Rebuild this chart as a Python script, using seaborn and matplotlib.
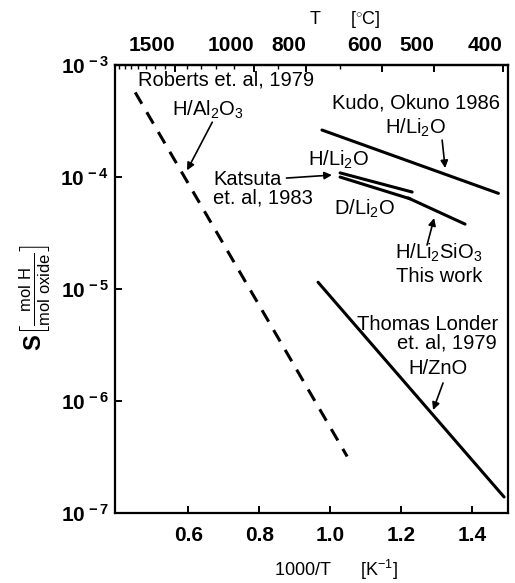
import numpy as np
import pandas as pd
import matplotlib
matplotlib.use("Agg")
import matplotlib.pyplot as plt
from matplotlib.ticker import FixedLocator, FixedFormatter, NullLocator
import seaborn as sns

# Hydrogen solubility in oxides: end points of each fitted line
# x = 1000/T [1/K], S = mol H / mol oxide
roberts_x = [0.451, 1.048]
roberts_s = [5.7e-4, 3.2e-7]
kudo_x = [0.977, 1.474]
kudo_s = [2.63e-4, 7.15e-5]
katsuta_h_x = [1.028, 1.231]
katsuta_h_s = [1.09e-4, 7.35e-5]
katsuta_d_x = [1.028, 1.225]
katsuta_d_s = [1.0e-4, 6.4e-5]
this_work_x = [1.220, 1.380]
this_work_s = [6.5e-5, 3.8e-5]
londer_x = [0.966, 1.490]
londer_s = [1.15e-5, 1.39e-7]

series_names = ["Roberts H/Al2O3", "Kudo H/Li2O", "Katsuta H/Li2O",
                "Katsuta D/Li2O", "This work H/Li2SiO3", "Londer H/ZnO"]
series_x = [roberts_x, kudo_x, katsuta_h_x, katsuta_d_x, this_work_x, londer_x]
series_s = [roberts_s, kudo_s, katsuta_h_s, katsuta_d_s, this_work_s, londer_s]

x_ticks = [0.6, 0.8, 1.0, 1.2, 1.4]
x_tick_labels = ["0.6", "0.8", "1.0", "1.2", "1.4"]
y_exponents = [-7, -6, -5, -4, -3]
top_temps_c = [1500, 1000, 800, 600, 500, 400]

sns.set_style("ticks")
plt.rcParams["font.family"] = ["Liberation Sans", "DejaVu Sans"]
plt.rcParams["mathtext.fontset"] = "custom"
plt.rcParams["mathtext.rm"] = "Liberation Sans"
plt.rcParams["mathtext.it"] = "Liberation Sans:italic"
plt.rcParams["mathtext.bf"] = "Liberation Sans:bold"
plt.rcParams["text.color"] = "black"
plt.rcParams["axes.labelcolor"] = "black"

df = pd.DataFrame({
    "x": [v for xs in series_x for v in xs],
    "S": [v for ss in series_s for v in ss],
    "series": [n for n, xs in zip(series_names, series_x) for _ in xs],
})

fig = plt.figure(figsize=(5.15, 5.83), dpi=100)
ax = fig.add_axes([0.2233, 0.120, 0.7631, 0.7684])

dashes = {n: "" for n in series_names}
dashes["Roberts H/Al2O3"] = (4.3, 3.2)
sns.lineplot(data=df, x="x", y="S", hue="series", style="series",
             palette=["black"] * len(series_names), dashes=dashes,
             linewidth=2.2, estimator=None, sort=False, legend=False, ax=ax)

ax.set_yscale("log")
ax.set_xlim(0.394, 1.501)
ax.set_ylim(1e-7, 1e-3)

for sp in ax.spines.values():
    sp.set_linewidth(1.6)
    sp.set_color("black")

ax.xaxis.set_major_locator(FixedLocator(x_ticks))
ax.xaxis.set_major_formatter(FixedFormatter(x_tick_labels))
ax.xaxis.set_minor_locator(NullLocator())
ax.yaxis.set_major_locator(FixedLocator([10.0 ** e for e in y_exponents]))
ax.yaxis.set_major_formatter(FixedFormatter(
    [r"$\mathbf{10^{\,%d}}$" % e for e in y_exponents]))
ax.yaxis.set_minor_locator(NullLocator())
ax.tick_params(axis="both", which="major", direction="in", length=5,
               width=1.4, labelsize=15, colors="black")
ax.tick_params(axis="x", pad=9)
ax.tick_params(axis="y", pad=4)
for lbl in ax.get_xticklabels():
    lbl.set_fontweight("bold")

ax.set_xlabel(r"1000/T      [K$^{-1}$]", fontsize=13)
ax.xaxis.set_label_coords(0.562, -0.100)
ax.set_ylabel(r"$\mathbf{S}\left[\frac{\mathrm{mol\ H}}{\mathrm{mol\ oxide}}\right]$",
              fontsize=17)
ax.yaxis.set_label_coords(-0.158, 0.482)

# Temperature scale in degrees Celsius along the top
top = ax.secondary_xaxis("top", functions=(lambda x: 1000.0 / np.maximum(x, 1e-6) - 273.0,
                                          lambda t: 1000.0 / (np.asarray(t) + 273.0)))
top.xaxis.set_major_locator(FixedLocator(top_temps_c))
top.xaxis.set_major_formatter(FixedFormatter([str(t) for t in top_temps_c]))
top.xaxis.set_minor_locator(FixedLocator(list(range(400, 2300, 100))))
top.tick_params(axis="x", which="major", direction="in", length=5, width=1.4,
                labelsize=15, pad=7, colors="black")
top.tick_params(axis="x", which="minor", direction="in", length=3, width=1.0,
                colors="black")
for lbl in top.get_xticklabels():
    lbl.set_fontweight("bold")
    lbl.set_horizontalalignment("right")
top.set_xlabel(r"T      [$^{\circ}$C]", fontsize=13, labelpad=9, color="black")
top.xaxis.label.set_x(0.585)
top.spines["top"].set_linewidth(1.6)
top.spines["top"].set_color("black")


def lg(e):
    return 10.0 ** e


txt = dict(fontsize=14.5, color="black", ha="center", va="center")
arrow = dict(arrowstyle="-|>", color="black", lw=1.2, mutation_scale=11,
             shrinkA=0, shrinkB=0)

# Roberts et al. (dashed)
ax.text(0.707, lg(-3.134), "Roberts et. al, 1979", **txt)
ax.text(0.656, lg(-3.40), r"H/Al$_2$O$_3$", **txt)
ax.annotate("", xy=(0.597, lg(-3.94)), xytext=(0.668, lg(-3.51)), arrowprops=arrow)

# Kudo, Okuno
ax.text(1.241, lg(-3.34), "Kudo, Okuno 1986", **txt)
ax.text(1.242, lg(-3.5625), r"H/Li$_2$O", **txt)
ax.annotate("", xy=(1.324, lg(-3.92)), xytext=(1.3155, lg(-3.67)), arrowprops=arrow)

# Katsuta et al.
ax.text(1.0225, lg(-3.848), r"H/Li$_2$O", **txt)
ax.text(0.6704, lg(-4.018), "Katsuta", fontsize=14.5, color="black",
        ha="left", va="center")
ax.text(0.6704, lg(-4.1875), "et. al, 1983", fontsize=14.5, color="black",
        ha="left", va="center")
ax.annotate("", xy=(1.005, lg(-3.982)), xytext=(0.877, lg(-4.009)), arrowprops=arrow)
ax.text(1.0958, lg(-4.286), r"D/Li$_2$O", **txt)

# This work
ax.text(1.307, lg(-4.68), r"H/Li$_2$SiO$_3$", **txt)
ax.text(1.307, lg(-4.89), "This work", **txt)
ax.annotate("", xy=(1.293, lg(-4.366)), xytext=(1.273, lg(-4.607)), arrowprops=arrow)

# Thomas, Londer et al.
ax.text(1.276, lg(-5.32), "Thomas Londer", **txt)
ax.text(1.33, lg(-5.482), "et. al, 1979", **txt)
ax.text(1.304, lg(-5.705), "H/ZnO", **txt)
ax.annotate("", xy=(1.290, lg(-6.08)), xytext=(1.318, lg(-5.839)), arrowprops=arrow)

fig.savefig("out.png", dpi=100, facecolor="white")
